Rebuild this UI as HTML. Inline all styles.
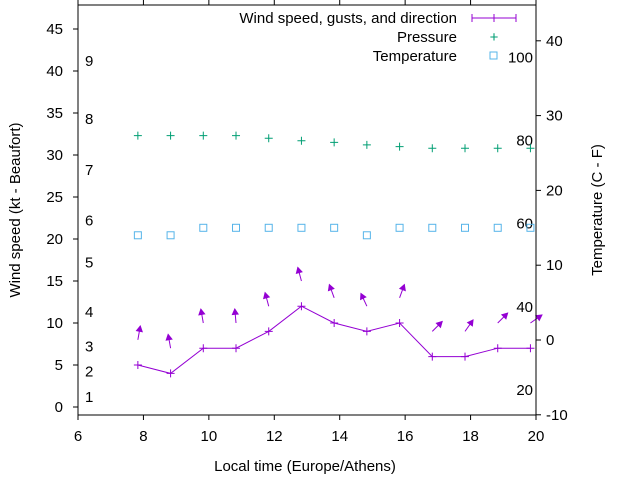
<!DOCTYPE html>
<html><head><meta charset="utf-8"><style>
body{margin:0;background:#fff}
svg{font-family:"Liberation Sans",sans-serif;font-size:15px}
</style></head><body>
<svg id="chart" width="640" height="480">
<rect x="0" y="0" width="640" height="480" fill="#fff"/>
<g id="grid"></g>
<g id="marks"></g>
<rect x="78" y="5" width="458" height="410" fill="none" stroke="#000" stroke-width="1"/>
<text x="0" y="0" transform="translate(20,210) rotate(-90)" text-anchor="middle">Wind speed (kt - Beaufort)</text>
<text x="0" y="0" transform="translate(602,210) rotate(-90)" text-anchor="middle">Temperature (C - F)</text>
<text x="305" y="471" text-anchor="middle">Local time (Europe/Athens)</text>
<g>
<text x="457" y="23" text-anchor="end">Wind speed, gusts, and direction</text>
<line x1="472" y1="18" x2="516" y2="18" stroke="#9400d3"/>
<line x1="472" y1="14" x2="472" y2="22" stroke="#9400d3"/><line x1="494" y1="14" x2="494" y2="22" stroke="#9400d3"/><line x1="516" y1="14" x2="516" y2="22" stroke="#9400d3"/>
<text x="457" y="42" text-anchor="end">Pressure</text>
<text x="494" y="42" text-anchor="middle" fill="#009e73">+</text>
<text x="457" y="61" text-anchor="end">Temperature</text>
<rect x="490" y="52" width="7" height="7" fill="none" stroke="#56b4e9"/>
</g>
</svg>
<script>
const times=[7.83,8.83,9.83,10.83,11.83,12.83,13.83,14.83,15.83,16.83,17.83,18.83,19.83];
const wind=[5,4,7,7,9,12,10,9,10,6,6,7,7];
const gusts=[8,7,10,10,12,15,13,12,13,9,9,10,10];
const dirs=[10,-10,-10,-5,-15,-15,-20,-25,20,45,35,45,55];
const pressure=[32.3,32.3,32.3,32.3,32.0,31.7,31.5,31.2,31.0,30.8,30.8,30.8,30.8];
const temps=[14,14,15,15,15,15,15,14,15,15,15,15,15];
const xTicks=[6,8,10,12,14,16,18,20];
const yTicks=[0,5,10,15,20,25,30,35,40,45];
const y2Ticks=[-10,0,10,20,30,40];
const beaufort=[1,2,3,4,5,6,7,8,9];
const beaufortKt=[1.2,4.2,7.2,11.3,17.2,22.2,28.2,34.3,41.2];
const fahr=[20,40,60,80,100];

const X=v=>78+(v-6)*458/14;
const Y=v=>407-v*8.4;
const Y2=v=>340-v*7.48;
const NS='http://www.w3.org/2000/svg';
const g=document.getElementById('grid'),m=document.getElementById('marks');
function mk(tag,attrs,parent,txt){const e=document.createElementNS(NS,tag);for(const k in attrs)e.setAttribute(k,attrs[k]);if(txt!==undefined)e.textContent=txt;parent.appendChild(e);return e;}

xTicks.forEach(t=>{
 const x=X(t);
 mk('line',{x1:x,y1:415,x2:x,y2:420,stroke:'#000'},g);
 mk('line',{x1:x,y1:5,x2:x,y2:0,stroke:'#000'},g);
 const e=mk('text',{x:x,y:441,'text-anchor':'middle'},g,t);
 
 
});
yTicks.forEach(t=>{
 const y=Y(t);
 mk('line',{x1:73,y1:y,x2:78,y2:y,stroke:'#000'},g);
 const e=mk('text',{x:63,y:y+5,'text-anchor':'end'},g,t);
 
 
});
y2Ticks.forEach(t=>{
 const y=Y2(t);
 mk('line',{x1:536,y1:y,x2:541,y2:y,stroke:'#000'},g);
 const e=mk('text',{x:546,y:y+5,'text-anchor':'start'},g,t);
 
 
});
beaufort.forEach((b,i)=>{
 const e=mk('text',{x:85,y:Y(beaufortKt[i])+5},g,b);
 
 
});
fahr.forEach(f=>{
 const c=(f-32)*5/9;
 const e=mk('text',{x:533,y:Y2(c)+5,'text-anchor':'end'},g,f);
 
 
});
// wind line
const pl=mk('polyline',{points:times.map((t,i)=>X(t)+','+Y(wind[i])).join(' '),fill:'none',stroke:'#9400d3'},m);


times.forEach((t,i)=>{
 const x=X(t),y=Y(wind[i]);
 const p=mk('path',{d:`M${x-4},${y}h8M${x},${y-4}v8`,stroke:'#9400d3'},m);
 
 
 // gust arrow
 const a=dirs[i]*Math.PI/180,L=14;
 const bx=x,by=Y(gusts[i]);
 const tx=bx+L*Math.sin(a),ty=by-L*Math.cos(a);
 const ar=mk('line',{x1:bx,y1:by,x2:tx,y2:ty,stroke:'#9400d3'},m);
 
 
 const h=6,s=0.5;
 const p1x=tx-h*Math.sin(a-s),p1y=ty+h*Math.cos(a-s),p2x=tx-h*Math.sin(a+s),p2y=ty+h*Math.cos(a+s);
 const hd=mk('polygon',{points:`${tx},${ty} ${p1x},${p1y} ${p2x},${p2y}`,fill:'#9400d3',stroke:'#9400d3'},m);
 
 
 // pressure
 const py=Y(pressure[i]);
 const pp=mk('path',{d:`M${x-4},${py}h8M${x},${py-4}v8`,stroke:'#009e73'},m);
 
 
 // temperature
 const ty2=Y2(temps[i]);
 const tr=mk('rect',{x:x-3.5,y:ty2-3.5,width:7,height:7,fill:'none',stroke:'#56b4e9'},m);
 
 
});
</script>
</body></html>
